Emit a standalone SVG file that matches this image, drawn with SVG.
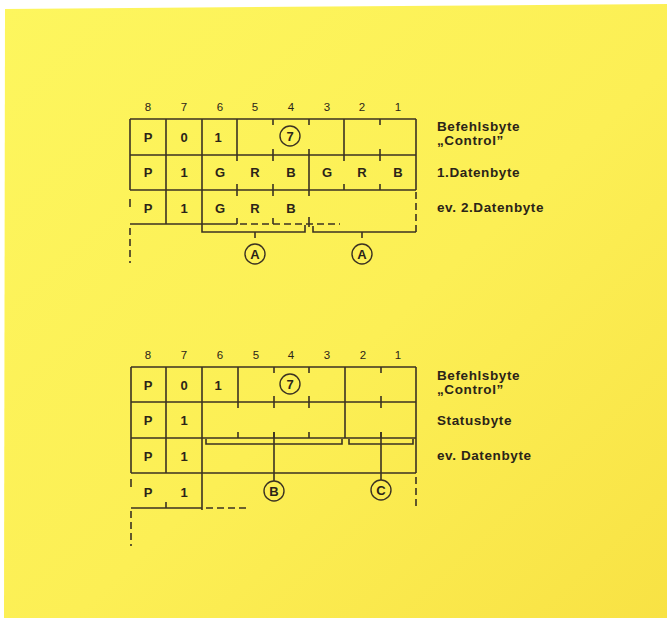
<svg xmlns="http://www.w3.org/2000/svg" width="667" height="618" viewBox="0 0 667 618">
<defs>
<linearGradient id="bg" x1="0" y1="0" x2="1" y2="1">
<stop offset="0" stop-color="#fdf65e"/>
<stop offset="0.55" stop-color="#fcef55"/>
<stop offset="1" stop-color="#f8e244"/>
</linearGradient>
<style>
.ln{stroke:#3b3222;stroke-width:1.6;fill:none;stroke-linecap:butt}
.ds{stroke:#3b3222;stroke-width:1.6;fill:none;stroke-dasharray:7,4}
.cell{font-family:"Liberation Sans",Arial,sans-serif;font-weight:bold;font-size:13px;fill:#2b2418;text-anchor:middle;dominant-baseline:central}
.num{font-family:"Liberation Sans",Arial,sans-serif;font-size:11.5px;fill:#2b2418;text-anchor:middle;dominant-baseline:central}
.lab{font-family:"Liberation Sans",Arial,sans-serif;font-weight:bold;font-size:13.5px;letter-spacing:0.6px;fill:#2b2418}
.circ{stroke:#3b3222;stroke-width:1.4;fill:none}
</style>
</defs>
<rect width="667" height="618" fill="#ffffff"/>
<polygon points="5,9 667,4 667,618 4,618" fill="url(#bg)"/>

<!-- ===== TOP REGISTER ===== -->
<g id="top-numbers">
<text class="num" x="148" y="107">8</text><text class="num" x="184" y="107">7</text><text class="num" x="220" y="107">6</text><text class="num" x="255" y="107">5</text><text class="num" x="291" y="107">4</text><text class="num" x="327" y="107">3</text><text class="num" x="362" y="107">2</text><text class="num" x="398" y="107">1</text>
</g>
<g id="top-row1">
<path class="ln" d="M130,119H416M130,155H416M130,119V155M416,119V155M166,119V155M202,119V155M237,119V155M344,119V155M273,119v6M273,149v6M309,119v6M309,149v6M380,119v6M380,149v6"/>
<text class="cell" x="148" y="137">P</text><text class="cell" x="184" y="137">0</text><text class="cell" x="218" y="137">1</text>
</g>
<g id="top-circle7"><circle class="circ" cx="290" cy="136" r="10"/><text class="cell" x="290" y="136.5">7</text></g>
<g id="top-row2">
<path class="ln" d="M130,190H416M130,155V190M416,155V190M166,155V190M202,155V190M309,155V190M237,155v6M237,184v6M273,155v6M273,184v6M344,155v6M344,184v6M380,155v6M380,184v6"/>
<text class="cell" x="148" y="172">P</text><text class="cell" x="184" y="172">1</text><text class="cell" x="220" y="172">G</text><text class="cell" x="255" y="172">R</text><text class="cell" x="291" y="172">B</text><text class="cell" x="327" y="172">G</text><text class="cell" x="362" y="172">R</text><text class="cell" x="398" y="172">B</text>
</g>
<g id="top-row3">
<path class="ln" d="M130,224H237M166,190V224M202,190V224M237,190v6M237,218v6M273,190v6M273,218v6M309,190v6M309,217v10M130,199v8"/>
<path class="ds" d="M240,224H340"/>
<path class="ds" d="M416,192V232" stroke-dasharray="6,4"/>
<path class="ds" d="M130,228V263" stroke-dasharray="8,5"/>
<text class="cell" x="148" y="208">P</text><text class="cell" x="184" y="208">1</text><text class="cell" x="220" y="208">G</text><text class="cell" x="255" y="208">R</text><text class="cell" x="291" y="208">B</text>
</g>
<g id="top-labels">
<text class="lab" x="437" y="131">Befehlsbyte</text>
<text class="lab" x="437" y="145">„Control”</text>
<text class="lab" x="437" y="177">1.Datenbyte</text>
<text class="lab" x="437" y="212">ev. 2.Datenbyte</text>
</g>
<g id="top-A1"><circle class="circ" cx="255" cy="254" r="10"/><text class="cell" x="255" y="254.5">A</text></g>
<g id="top-A2"><circle class="circ" cx="362" cy="254" r="10"/><text class="cell" x="362" y="254.5">A</text></g>

<!-- ===== BOTTOM REGISTER ===== -->
<g id="bottom-numbers">
<text class="num" x="148" y="355">8</text><text class="num" x="184" y="355">7</text><text class="num" x="220" y="355">6</text><text class="num" x="256" y="355">5</text><text class="num" x="291" y="355">4</text><text class="num" x="327" y="355">3</text><text class="num" x="363" y="355">2</text><text class="num" x="398" y="355">1</text>
</g>
<g id="bottom-row1">
<path class="ln" d="M131,367H416M131,402H416M131,367V402M416,367V402M166,367V402M202,367V402M238,367V402M345,367V402M274,367v6M274,396v6M309,367v6M309,396v6M381,367v6M381,396v6"/>
<text class="cell" x="148" y="385">P</text><text class="cell" x="184" y="385">0</text><text class="cell" x="218" y="385">1</text>
</g>
<g id="bottom-circle7"><circle class="circ" cx="290" cy="384" r="10"/><text class="cell" x="290" y="384.5">7</text></g>
<g id="bottom-row2">
<path class="ln" d="M131,438H416M131,402V438M416,402V438M166,402V438M202,402V438M345,402V438M238,402v6M238,432v6M274,402v6M274,432v6M309,402v6M309,432v6M381,402v6M381,432v6"/>
<text class="cell" x="148" y="420">P</text><text class="cell" x="184" y="420">1</text>
</g>
<g id="bottom-row3">
<path class="ln" d="M131,473H416M131,438V473M416,438V473M166,438V473M202,438V473"/>
<text class="cell" x="148" y="456">P</text><text class="cell" x="184" y="456">1</text>
</g>
<g id="bottom-row4">
<path class="ln" d="M131,508H202M131,479v8M166,502v6M202,473V510"/>
<path class="ds" d="M206,508H250" stroke-dasharray="8,4"/>
<path class="ds" d="M131,511V546" stroke-dasharray="8,4"/>
<path class="ds" d="M416,477V508" stroke-dasharray="6,5"/>
<text class="cell" x="148" y="492">P</text><text class="cell" x="184" y="492">1</text>
</g>
<g id="bottom-labels">
<text class="lab" x="437" y="380">Befehlsbyte</text>
<text class="lab" x="437" y="394">„Control”</text>
<text class="lab" x="437" y="425">Statusbyte</text>
<text class="lab" x="437" y="460">ev. Datenbyte</text>
</g>
<g id="bottom-B"><circle class="circ" cx="274" cy="491" r="10"/><text class="cell" x="274" y="491.5">B</text></g>
<g id="bottom-C"><circle class="circ" cx="381" cy="490" r="10"/><text class="cell" x="381" y="490.5">C</text></g>

<!-- ===== CONNECTORS (brackets) ===== -->
<g id="connectors">
<path class="ln" d="M202,224V232H305V225M255,232V238"/>
<path class="ln" d="M313,226V232H416M362,232V238"/>
<path class="ln" d="M206,439V444H342V439M274,432V481"/>
<path class="ln" d="M349,439V444H413V439M381,432V480"/>
</g>
</svg>
